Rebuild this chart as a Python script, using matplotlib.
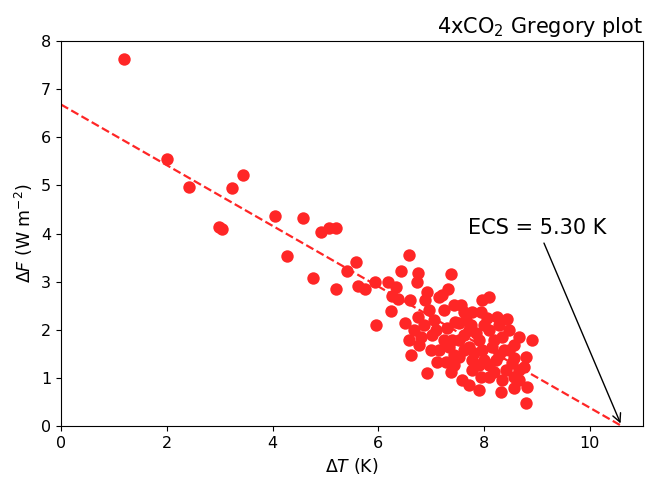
import matplotlib
matplotlib.use("Agg")
import matplotlib.pyplot as plt
import numpy as np

# annual-mean global anomalies after abrupt 4xCO2
dT = [1.19, 2.00, 2.42, 2.98, 3.04, 3.23, 3.45, 4.04, 4.28, 4.57,
      4.77, 4.91, 5.06, 5.19, 5.19, 5.40, 5.57, 5.62, 5.75, 5.94,
      5.96, 6.19, 6.23, 6.57, 6.42, 6.75, 7.38, 6.74, 7.32, 6.34,
      6.26, 6.38, 6.60, 6.92, 6.89, 7.15, 7.43, 7.57, 6.51, 6.75,
      7.45, 7.66, 6.58, 6.81, 7.09, 7.30, 7.40, 8.09, 7.96, 7.77,
      7.94, 7.21, 8.25, 8.43, 8.66, 8.91, 8.79, 8.75, 8.57, 8.81,
      8.32, 8.57, 8.79, 7.94, 7.58, 7.38, 7.28, 7.53, 7.75, 7.85,
      8.09, 8.34, 8.47, 8.23, 7.77, 8.42, 8.09, 8.53, 8.66, 7.72,
      7.96, 7.34, 7.53, 8.15, 7.77, 8.34, 6.62, 7.02, 7.00, 7.11,
      6.92, 7.53, 7.81, 7.62, 7.91, 8.19, 8.00, 8.28, 7.62, 7.43,
      8.09, 8.38, 8.57, 8.28, 8.00, 7.25, 6.87, 7.06, 6.68, 7.25,
      7.91, 7.72, 8.66, 6.96, 8.06, 7.72, 8.47, 7.43, 8.19, 7.15,
      6.77, 8.57, 7.91, 7.62]
dF = [7.63, 5.55, 4.97, 4.14, 4.10, 4.95, 5.22, 4.37, 3.53, 4.32,
      3.08, 4.03, 4.12, 4.12, 2.85, 3.22, 3.41, 2.91, 2.85, 2.99,
      2.10, 2.99, 2.39, 3.56, 3.22, 3.18, 3.16, 2.99, 2.85, 2.89,
      2.70, 2.64, 2.62, 2.79, 2.62, 2.68, 2.52, 2.52, 2.14, 2.27,
      2.16, 2.20, 1.79, 1.85, 2.00, 2.04, 1.79, 2.68, 2.62, 2.37,
      2.37, 2.72, 2.27, 2.22, 1.85, 1.79, 1.43, 1.23, 1.02, 0.81,
      0.71, 0.79, 0.48, 1.02, 0.96, 1.12, 1.33, 2.14, 2.10, 1.93,
      2.00, 1.85, 1.58, 1.37, 1.16, 1.16, 1.02, 1.31, 1.16, 1.64,
      1.58, 1.64, 1.43, 1.64, 1.37, 0.96, 1.48, 1.89, 1.58, 1.33,
      1.10, 1.79, 1.52, 1.89, 1.79, 1.79, 1.37, 1.48, 1.58, 1.48,
      1.27, 1.58, 1.68, 2.10, 2.10, 1.79, 2.10, 2.20, 2.00, 2.41,
      0.75, 0.85, 0.96, 2.41, 2.25, 2.00, 2.00, 1.27, 1.12, 1.58,
      1.68, 1.41, 1.27, 2.37]

F0 = 6.68   # fitted forcing at dT = 0
ECS = 5.30  # half the dT where the fit crosses zero

RED = "#ff2626"

fig = plt.figure(figsize=(6.45, 4.78), dpi=100)
ax = fig.add_axes([0.0946, 0.1088, 0.902, 0.8054])

ax.scatter(dT, dF, s=80, color=RED, zorder=3, linewidths=0)

x_zero = 2 * ECS
xx = np.array([0.0, x_zero])
ax.plot(xx, F0 * (1 - xx / x_zero), "--", color=RED, lw=1.6)

ax.annotate(f"ECS = {ECS:.2f} K", xy=(x_zero, 0), xytext=(7.7, 4.12),
            fontsize=15, va="center",
            arrowprops=dict(arrowstyle="->", color="k", lw=1.0))

ax.set_xlim(0, 11)
ax.set_ylim(0, 8)
ax.set_xlabel(r"$\Delta T$ (K)", fontsize=12.5)
ax.set_ylabel(r"$\Delta F$ (W m$^{-2}$)", fontsize=12.5)
ax.tick_params(labelsize=11.5)
ax.set_title(r"4xCO$_2$ Gregory plot", loc="right", fontsize=15)

fig.savefig("out.png", dpi=100)
